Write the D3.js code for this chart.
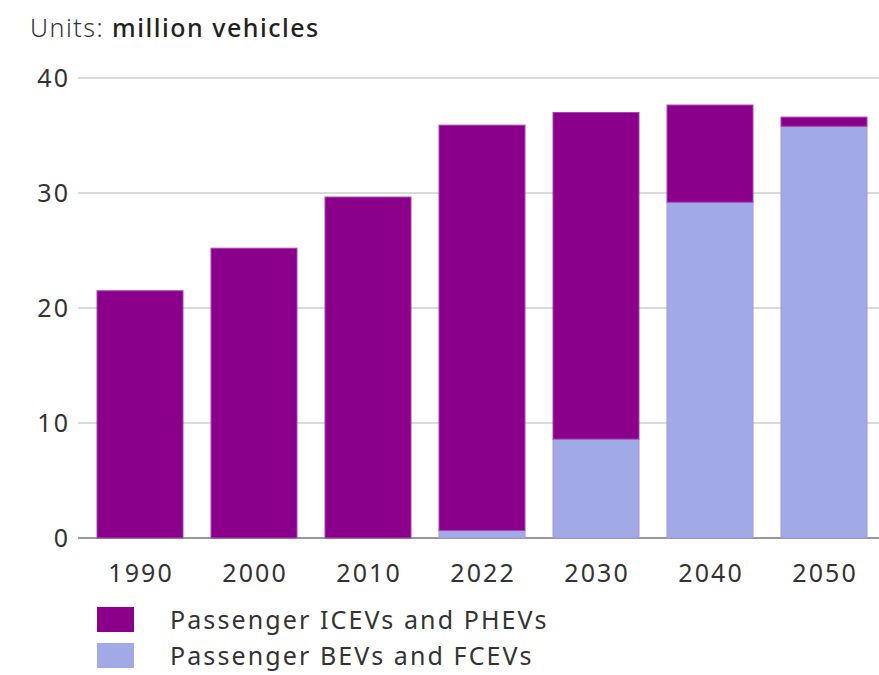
<!DOCTYPE html>
<html>
<head>
<meta charset="utf-8">
<script src="https://cdn.jsdelivr.net/npm/d3@7"></script>
<style>
  html, body { margin: 0; padding: 0; background: #fff; }
  svg { display: block; font-family: "Noto Sans", "Open Sans", sans-serif; }
</style>
</head>
<body>
<svg id="chart" width="879" height="675"></svg>
<script>
// Passenger vehicle stock, million vehicles
const years = ["1990", "2000", "2010", "2022", "2030", "2040", "2050"];
const iceValues = [21.5, 25.2, 29.65, 35.25, 28.4, 8.45, 0.8];
const bevValues = [0, 0, 0, 0.65, 8.6, 29.2, 35.8];
const yTicks = [0, 10, 20, 30, 40];
const seriesNames = ["Passenger ICEVs and PHEVs", "Passenger BEVs and FCEVs"];
const seriesColors = ["#8b008b", "#a1a9e6"];
const seriesStrokes = ["#a845b0", "#a596dc"];

const svg = d3.select("#chart");
const textColor = "#333";
const fontSize = 25;
const spacing = 2.1;

const y = d3.scaleLinear().domain([0, 40]).range([538, 78]);
const x = d3.scaleBand().domain(years).range([83, 881]).paddingInner(0.2456).paddingOuter(0.1228);

// Title
const title = svg.append("text").attr("x", 30).attr("y", 37)
  .attr("font-size", fontSize).attr("letter-spacing", 1.5).attr("fill", textColor);
title.append("tspan").attr("font-weight", 300).text("Units: ");
title.append("tspan").attr("font-weight", 500).attr("fill", "#222").text("million vehicles");

// Gridlines
svg.append("g").selectAll("line").data(yTicks).join("line")
  .attr("x1", 78).attr("x2", 879)
  .attr("y1", d => y(d)).attr("y2", d => y(d))
  .attr("stroke", d => d === 0 ? "#999" : "#b5b5b5")
  .attr("stroke-width", d => d === 0 ? 2 : 1.2);

// Y tick labels
svg.append("g").selectAll("text").data(yTicks).join("text")
  .attr("x", 68 + spacing).attr("y", d => y(d)).attr("dy", "0.36em")
  .attr("text-anchor", "end").attr("font-size", fontSize)
  .attr("letter-spacing", spacing).attr("fill", textColor)
  .text(d => d);

// Stacked bars
const rows = years.map((yr, i) => ({ year: yr, ice: iceValues[i], bev: bevValues[i] }));
const stack = d3.stack().keys(["bev", "ice"]);
const layers = stack(rows);
const keyIndex = { ice: 0, bev: 1 };

svg.append("g").selectAll("g").data(layers).join("g")
  .attr("fill", d => seriesColors[keyIndex[d.key]])
  .attr("stroke", d => seriesStrokes[keyIndex[d.key]])
  .attr("stroke-width", 1)
  .selectAll("rect").data(d => d.filter(p => p[1] - p[0] > 0)).join("rect")
  .attr("x", d => x(d.data.year))
  .attr("width", x.bandwidth())
  .attr("y", d => y(d[1]))
  .attr("height", d => y(d[0]) - y(d[1]));

// X labels
svg.append("g").selectAll("text").data(years).join("text")
  .attr("x", d => x(d) + x.bandwidth() / 2 + spacing / 2).attr("y", 582)
  .attr("text-anchor", "middle").attr("font-size", fontSize)
  .attr("letter-spacing", spacing).attr("fill", textColor)
  .text(d => d);

// Legend
const legend = svg.append("g").selectAll("g").data(seriesNames).join("g")
  .attr("transform", (d, i) => `translate(97, ${607 + i * 36})`);
legend.append("rect").attr("width", 37).attr("height", 25)
  .attr("fill", (d, i) => seriesColors[i]);
legend.append("text").attr("x", 73).attr("y", 13).attr("dy", "0.36em")
  .attr("font-size", fontSize).attr("letter-spacing", spacing)
  .attr("fill", textColor).text(d => d);
</script>
</body>
</html>
